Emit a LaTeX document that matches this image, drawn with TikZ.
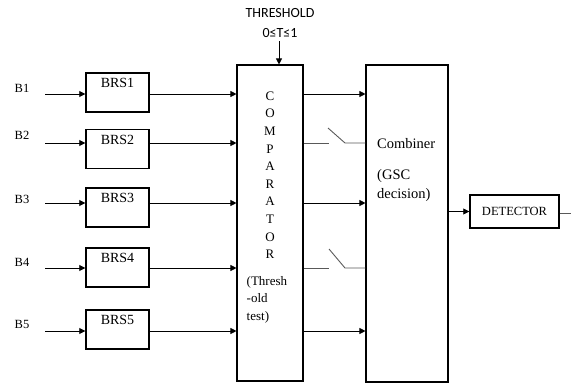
\documentclass[tikz,border=0pt]{standalone}
\usepackage{fontspec}
\setmainfont{Liberation Serif}
\newfontfamily\calib{Carlito}
\usetikzlibrary{arrows.meta}
\begin{document}
\begin{tikzpicture}[x=1pt,y=-1pt,
  box/.style={draw, line width=1.4pt, inner sep=0pt},
  bigbox/.style={draw, line width=1.1pt, inner sep=0pt},
  arr/.style={-{Triangle[length=6pt,width=6pt]}, line width=0.8pt},
  ln/.style={line width=0.8pt},
  sw/.style={line width=0.9pt, draw=black!65},
  lab/.style={font=\fontsize{12.5}{14}\selectfont, inner sep=0pt},
  brslab/.style={font=\fontsize{14}{16}\selectfont, inner sep=0pt, anchor=north},
  txt/.style={font=\fontsize{13.5}{16}\selectfont, inner sep=0pt}]
\useasboundingbox (0,0) rectangle (571,383);

% comparator and combiner
\node[bigbox, minimum width=66pt, minimum height=316pt] (comp) at (270,223) {};
\node[bigbox, minimum width=82pt, minimum height=317pt] (comb) at (407,223.5) {};
\node[box, minimum width=89pt, minimum height=33pt] (det) at (514.5,211.5)
  {\fontsize{12.5}{14}\selectfont DETECTOR};

% threshold
\node[inner sep=0pt, font=\calib\fontsize{14}{16}\selectfont] (thr) at (280,13) {THRESHOLD};
\node[inner sep=0pt, font=\calib\fontsize{14}{16}\selectfont] (thv) at (280,33) {0≤T≤1};
\coordinate (thin) at (279,41);
\draw[arr] (thin) -- (thin |- comp.north);

% comparator text
\foreach \l [count=\i] in {C,O,M,P,A,R,A,T,O,R}
  \node[txt, font=\fontsize{13}{15}\selectfont] (cl\i) at (270,{96+(\i-1)*17.6}) {\l};
\node[txt, anchor=north west, align=left, font=\fontsize{13}{17.6}\selectfont] (ctest) at (246.5,276)
  {(Thresh\\-old\\test)};

% combiner text
\node[txt, anchor=west, font=\fontsize{14.5}{17}\selectfont] (cbt) at (377,144) {Combiner};
\node[txt, anchor=north west, align=left, font=\fontsize{14.5}{19.5}\selectfont] (gsc) at (377,169)
  {(GSC\\decision)};

% branches
\foreach \i/\by/\ay/\ly in {1/92.5/94/88, 2/149/143/135, 3/207.5/203/199, 4/267.5/268/262, 5/329.5/331/324}{
  \node[lab] (b\i) at (22,\ly) {B\i};
  \node[box, minimum width=63pt, minimum height=39pt] (brs\i) at (117.5,\by) {};
  \node[brslab] (brst\i) at ([yshift=-6pt]brs\i.north) {BRS\i};
  \coordinate (in\i) at (45,\ay);
  \draw[arr] (in\i) -- (in\i -| brs\i.west);
  \draw[arr] (in\i -| brs\i.east) -- (in\i -| comp.west);
}

% comparator -> combiner
\draw[arr] (in1 -| comp.east) -- (in1 -| comb.west);
\draw[arr] (in3 -| comp.east) -- (in3 -| comb.west);
\draw[arr] (in5 -| comp.east) -- (in5 -| comb.west);

% switches
\coordinate (s2a) at (329,143);
\coordinate (s2b) at (345,143);
\coordinate (s2t) at (328,128);
\draw[sw] (comp.east |- s2a) -- (s2a);
\draw[sw] (s2t) -- (s2b) -- (s2b -| comb.west);
\coordinate (s4a) at (329,268);
\coordinate (s4b) at (345,268);
\coordinate (s4t) at (329,249);
\draw[sw] (comp.east |- s4a) -- (s4a);
\draw[sw] (s4t) -- (s4b) -- (s4b -| comb.west);

% detector
\draw[arr] (comb.east |- det.west) -- (det.west);
\coordinate (outd) at (571,213);
\draw[ln, draw=black!65] (det.east |- outd) -- (outd);
\end{tikzpicture}
\end{document}
